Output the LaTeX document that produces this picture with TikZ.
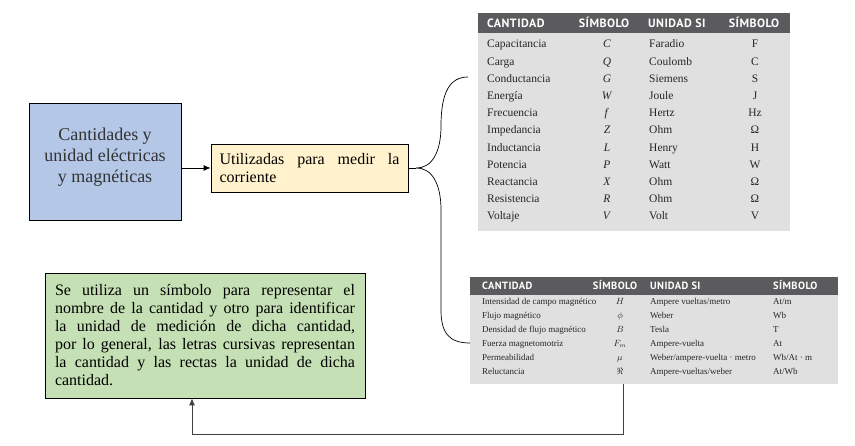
\documentclass[tikz,border=0pt]{standalone}
\usepackage{fontspec}
\setmainfont{Liberation Serif}
\newfontfamily\headfont[LetterSpace=4]{PT Sans}
\usepackage{tikz}
\usetikzlibrary{arrows.meta,positioning}

\definecolor{azul}{HTML}{B4C7E7}
\definecolor{crema}{HTML}{FFF2CC}
\definecolor{verde}{HTML}{C5E0B4}
\definecolor{gris}{HTML}{E0E0E0}
\definecolor{grisosc}{HTML}{5B5B5D}

\tikzset{
  caja/.style={draw=black, line width=0.8pt, inner sep=0pt},
  cajaazul/.style={caja, fill=azul, minimum width=152pt, minimum height=117pt},
  textoazul/.style={inner sep=0pt, align=center, text=black!80, font=\fontsize{18}{21}\selectfont},
  cajacrema/.style={caja, fill=crema, minimum width=197pt, minimum height=48pt,
    text width=180pt, align=justify, font=\fontsize{16}{18}\selectfont},
  cajaverde/.style={caja, fill=verde, minimum width=320pt, minimum height=125pt,
    text width=300pt, align=justify, font=\fontsize{16}{18}\selectfont},
  tabla/.style={fill=gris, inner sep=0pt, anchor=north west},
  cabeza/.style={fill=grisosc, inner sep=0pt, anchor=north west},
  celda/.style={inner sep=0pt, text=black!85},
  titulo/.style={inner sep=0pt, text=white, font=\headfont\bfseries},
  linea/.style={line width=0.7pt},
  flecha/.style={line width=0.8pt, -{Latex[length=7pt,width=6pt]}}
}

\begin{document}
\begin{tikzpicture}[x=1pt,y=-1pt]
\fill[white] (0,0) rectangle (855,446);
\useasboundingbox (0,0) rectangle (855,446);

\node[cajaazul] (cant) at (105,161.5) {};
\node[textoazul] (cantTxt) at (105,157) {Cantidades y\\unidad eléctricas\\y magnéticas};
\node[cajacrema] (util) at (309.5,168) {Utilizadas para medir la\linebreak corriente};
\node[cajaverde] (nota) at (205,335.5) {Se utiliza un símbolo para representar el\linebreak
  nombre de la cantidad y otro para identificar\linebreak la unidad de medición de dicha cantidad,\linebreak
  por lo general, las letras cursivas representan\linebreak la cantidad y las rectas la unidad de dicha\linebreak
  cantidad.};

\draw[flecha] (cant.east |- util.west) -- (util.west);

% tabla electrica
\node[tabla, minimum width=312pt, minimum height=218pt] (tabA) at (478,13) {};
\node[cabeza, minimum width=312pt, minimum height=20pt] (cabA) at (tabA.north west) {};
\begin{scope}[every node/.append style={titulo, font=\headfont\bfseries\fontsize{12}{14}\selectfont}]
\node[anchor=base west] at (487,27.5) {CANTIDAD};
\node[anchor=base] at (604,27.5) {SÍMBOLO};
\node[anchor=base west] at (648,27.5) {UNIDAD SI};
\node[anchor=base] at (754,27.5) {SÍMBOLO};
\end{scope}
\foreach \q/\s/\u/\v [count=\i] in {Capacitancia/C/Faradio/F, Carga/Q/Coulomb/C,
  Conductancia/G/Siemens/S, Energía/W/Joule/J, Frecuencia/f/Hertz/Hz,
  Impedancia/Z/Ohm/Ω, Inductancia/L/Henry/H, Potencia/P/Watt/W,
  Reactancia/X/Ohm/Ω, Resistencia/R/Ohm/Ω, Voltaje/V/Volt/V}{
  \begin{scope}[every node/.append style={celda, font=\fontsize{11.5}{13}\selectfont}]
  \node[anchor=base west] at (487,48+17.2*\i-17.2) {\q};
  \node[anchor=base] at (607,48+17.2*\i-17.2) {\textit{\s}};
  \node[anchor=base west] at (649,48+17.2*\i-17.2) {\u};
  \node[anchor=base] at (755,48+17.2*\i-17.2) {\v};
  \end{scope}
}

% tabla magnetica
\node[tabla, minimum width=368pt, minimum height=107pt] (tabB) at (470,277) {};
\node[cabeza, minimum width=368pt, minimum height=18pt] (cabB) at (tabB.north west) {};
\begin{scope}[every node/.append style={titulo, font=\headfont\bfseries\fontsize{10.5}{12}\selectfont}]
\node[anchor=base west] at (482,290) {CANTIDAD};
\node[anchor=base] at (615,290) {SÍMBOLO};
\node[anchor=base west] at (650,290) {UNIDAD SI};
\node[anchor=base west] at (773,290) {SÍMBOLO};
\end{scope}
\foreach \q/\s/\u/\v [count=\i] in {{Intensidad de campo magnético}/$H$/{Ampere vueltas/metro}/{At/m},
  {Flujo magnético}/$\phi$/Weber/Wb, {Densidad de flujo magnético}/$B$/Tesla/T,
  {Fuerza magnetomotriz}/$F_m$/Ampere-vuelta/At,
  Permeabilidad/$\mu$/{Weber/ampere-vuelta · metro}/{Wb/At · m},
  Reluctancia/$\Re$/{Ampere-vueltas/weber}/{At/Wb}}{
  \begin{scope}[every node/.append style={celda, font=\fontsize{9}{11}\selectfont}]
  \node[anchor=base west] at (482,304.5+14.1*\i-14.1) {\q};
  \node[anchor=base] at (620,304.5+14.1*\i-14.1) {\s};
  \node[anchor=base west] at (650,304.5+14.1*\i-14.1) {\u};
  \node[anchor=base west] at (773,304.5+14.1*\i-14.1) {\v};
  \end{scope}
}

% llave
\coordinate (llave) at ([xshift=8pt]util.east);
\coordinate (arriba) at (468,77);
\coordinate (abajo) at (tabB.west |- 0,343);
\draw[linea] (util.east) -- (llave);
\draw[linea] (llave) .. controls (432,168) and (441,152) .. (441,126)
  .. controls (441,92) and (450,77) .. (arriba);
\draw[linea] (llave) .. controls (432,168) and (441,184) .. (441,210)
  -- (441,310) .. controls (441,334) and (450,343) .. (abajo);

% retorno
\coordinate (salida) at (623,0 |- tabB.south);
\draw[flecha, draw=black!75] (salida) -- (623,434) -- (192,434) -- (192,0 |- nota.south);
\end{tikzpicture}
\end{document}
